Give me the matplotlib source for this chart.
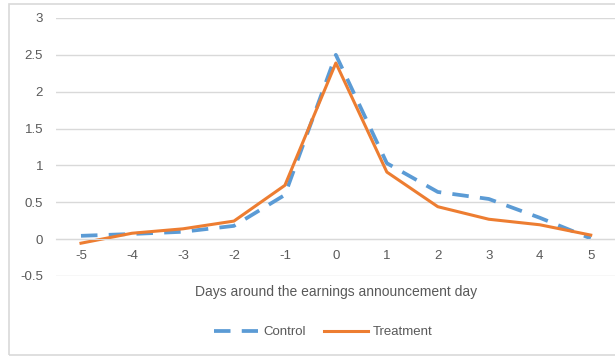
import matplotlib.pyplot as plt
from matplotlib.patches import Rectangle

plt.rcParams['font.family'] = ['Liberation Sans', 'DejaVu Sans']

days = [-5, -4, -3, -2, -1, 0, 1, 2, 3, 4, 5]
control = [0.045, 0.07, 0.10, 0.18, 0.60, 2.50, 1.03, 0.64, 0.545, 0.29, 0.01]
treatment = [-0.055, 0.08, 0.14, 0.245, 0.73, 2.39, 0.91, 0.44, 0.27, 0.195, 0.055]
y_ticks = [-0.5, 0, 0.5, 1, 1.5, 2, 2.5, 3]
y_labels = ['-0.5', '0', '0.5', '1', '1.5', '2', '2.5', '3']

W, H = 615, 356
fig = plt.figure(figsize=(W / 100, H / 100), dpi=100)
ax = fig.add_axes([55.5 / W, 1 - 276 / H, 1 - 55.5 / W + 0.002, (276 - 18) / H])

# chart border like the Excel frame
fig.patches.append(Rectangle((8.5 / W, 1.5 / H), 1.0, (352.5 - 1.5) / H,
                             transform=fig.transFigure, fill=False,
                             edgecolor='#D9D9D9', linewidth=1.2))

ax.plot(days, control, color='#5B9BD5', linewidth=2.7, linestyle=(0, (4.4, 3.0)),
        label='Control', dash_capstyle='butt')
ax.plot(days, treatment, color='#ED7D31', linewidth=2.2, label='Treatment')

ax.set_xlim(-5.5, 5.5)
ax.set_ylim(-0.5, 3)
ax.set_yticks(y_ticks)
ax.set_yticklabels(y_labels)
ax.set_xticks(days)
ax.set_xticklabels([str(d) for d in days])
ax.grid(axis='y', color='#D9D9D9', linewidth=1)
ax.set_axisbelow(True)

for s in ['top', 'right', 'left']:
    ax.spines[s].set_visible(False)
ax.spines['bottom'].set_position(('data', 0))
ax.spines['bottom'].set_color('#D9D9D9')
ax.tick_params(axis='both', length=0, colors='#595959', labelsize=9.5)
ax.tick_params(axis='x', pad=8)
ax.tick_params(axis='y', pad=9)

ax.set_xlabel('Days around the earnings announcement day', color='#595959', fontsize=10)
ax.xaxis.label.set_verticalalignment('center')
ax.xaxis.set_label_coords(0.5, -(292 - 276) / 258)

ax.legend(loc='center', bbox_to_anchor=((323 - 55.5) / (W - 55.5), -(332 - 276) / 258),
          ncol=2, frameon=False, fontsize=9.5, labelcolor='#595959',
          handlelength=3.3, handletextpad=0.4, columnspacing=1.4)

fig.savefig('out.png', dpi=100)
